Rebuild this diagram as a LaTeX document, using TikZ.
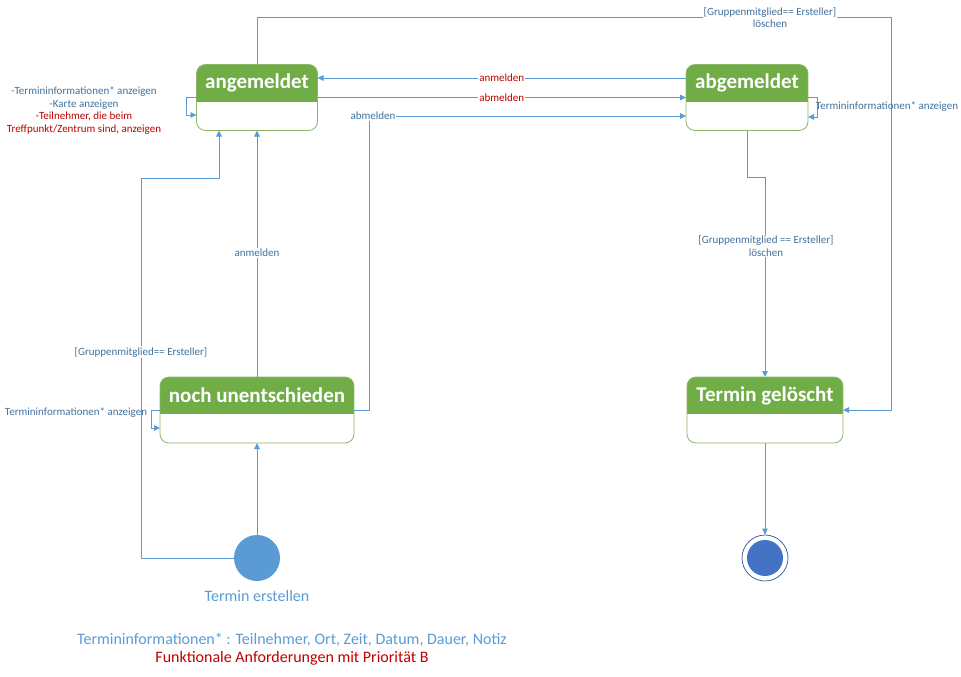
\documentclass[tikz,border=0pt]{standalone}
\usepackage{fontspec}
\setmainfont{Carlito}
\usetikzlibrary{arrows.meta}
\definecolor{hdr}{HTML}{70AD47}
\definecolor{boxln}{HTML}{8CB868}
\definecolor{ln}{HTML}{5B9BD5}
\definecolor{lbl}{HTML}{41719C}
\definecolor{redA}{HTML}{C00000}
\definecolor{lblue}{HTML}{5B9BD5}
\definecolor{finblue}{HTML}{4472C4}
\definecolor{ring}{HTML}{2F5597}
\tikzset{
  stbox/.style={rectangle, fill=white, inner sep=0pt, outer sep=0pt},
  hdrtext/.style={text=white, font=\fontsize{21}{24}\selectfont\bfseries, inner sep=0pt},
  arr/.style={draw=ln, line width=0.9pt, -{Triangle[length=6pt,width=5.5pt]}},
  lab/.style={text=lbl, font=\fontsize{11}{12.7}\selectfont, inner sep=1pt, align=center},
  labw/.style={lab, fill=white},
  bigtxt/.style={font=\fontsize{16}{18}\selectfont, inner sep=0pt},
}
\newcommand{\umlstate}[6]{%
  \node[stbox, minimum width=#4pt, minimum height=#5pt] (#1) at (#2,#3) {};
  \begin{scope}
    \clip[rounded corners=9pt] (#1.south west) rectangle (#1.north east);
    \fill[hdr] (#1.north west) rectangle ([yshift=-37pt]#1.north east);
  \end{scope}
  \draw[boxln, line width=0.8pt, rounded corners=9pt] (#1.south west) rectangle (#1.north east);
  \node[hdrtext] (#1-t) at ([yshift=-18.5pt]#1.north) {#6};
}
\begin{document}
\begin{tikzpicture}[x=1pt,y=-1pt]
\useasboundingbox (0,0) rectangle (961,677);

\coordinate (tr) at (891,17);
\coordinate (cab) at (369,116);
\coordinate (cl) at (141,178);

\umlstate{ang}{257}{97.5}{121}{66}{angemeldet}
\umlstate{abg}{747}{97.5}{122}{66}{abgemeldet}
\umlstate{noch}{257}{410}{194}{66}{noch unentschieden}
\umlstate{gel}{765}{410}{156}{66}{Termin gelöscht}

\node[circle, fill=lblue, minimum size=46pt, inner sep=0pt] (init) at (257,558) {};
\node[circle, draw=ring, line width=0.7pt, fill=white, minimum size=46pt, inner sep=0pt] (fin) at (765,558) {};
\fill[finblue] (fin.center) circle (18pt);

% top: angemeldet -> Termin geloescht
\draw[arr] (ang.north) |- (tr) |- (gel.east);
\node[labw] (ltop) at (770,17.5) {[Gruppenmitglied== Ersteller]\\löschen};

% anmelden / abmelden between ang and abg
\draw[arr] ([yshift=19.5pt]abg.west) -- ([yshift=19.5pt]ang.east)
  node[labw, text=redA, midway] (lan) {anmelden};
\draw[arr] (ang.east) -- (abg.west)
  node[labw, text=redA, midway] (lab1) {abmelden};

% noch -> abg
\draw[arr] (noch.east) -| (cab) -- (abg.west |- cab);
\node[labw] (lab2) at (373,116) {abmelden};

% self loops
\draw[arr] (abg.east) -- ++(9,0) |- ([yshift=-19.5pt]abg.east);
\node[lab] (lself1) at (887,107) {Termininformationen* anzeigen};
\draw[arr] (ang.west) -- ++(-10,0) |- ([yshift=-17.5pt]ang.west);
\node[lab] (lself2) at (84,110.5) {-Termininformationen* anzeigen\\-Karte anzeigen\\\textcolor{redA}{-Teilnehmer, die beim}\\\textcolor{redA}{Treffpunkt/Zentrum sind, anzeigen}};
\draw[arr] (noch.west) -- ++(-9,0) |- ([yshift=-18pt]noch.west);
\node[lab] (lself3) at (76,413) {Termininformationen* anzeigen};

% abg -> gel
\draw[arr] (abg.south) -- ++(0,47) -| (gel.north);
\node[labw] (lgel) at (766,246) {[Gruppenmitglied == Ersteller]\\löschen};

% noch -> ang
\draw[arr] (noch.north) -- (ang.south);
\node[labw] (lan2) at (257,253) {anmelden};

% init -> noch, init -> ang
\draw[arr] (init.north) -- (noch.south);
\draw[arr] (init.west) -| (cl) -| ([xshift=-38pt]ang.south);
\node[labw] (lgr) at (141,352) {[Gruppenmitglied== Ersteller]};

% gel -> fin
\draw[arr] (gel.south) -- (fin.north);

% texts
\node[bigtxt, text=lblue] (tinit) at (257,596) {Termin erstellen};
\node[bigtxt, text=lblue] (note1) at (292,640) {Termininformationen* : Teilnehmer, Ort, Zeit, Datum, Dauer, Notiz};
\node[bigtxt, text=redA] (note2) at (292,658) {Funktionale Anforderungen mit Priorität B};
\end{tikzpicture}
\end{document}
